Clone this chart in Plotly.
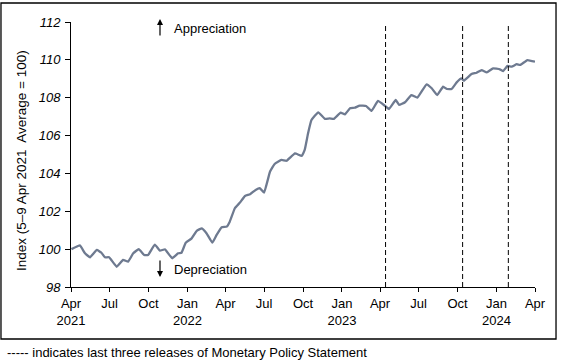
import plotly.graph_objects as go

dates = [
    "2021-04-02", "2021-04-22", "2021-05-04", "2021-05-16", "2021-06-01", "2021-06-12",
    "2021-06-20", "2021-06-30", "2021-07-18", "2021-08-02", "2021-08-14", "2021-08-26",
    "2021-09-08", "2021-09-21", "2021-09-30", "2021-10-16", "2021-10-28", "2021-11-09",
    "2021-11-26", "2021-12-10", "2021-12-18", "2021-12-28",
    "2022-01-11", "2022-01-23", "2022-02-04", "2022-02-15", "2022-03-01", "2022-03-11",
    "2022-03-23", "2022-04-04", "2022-04-11", "2022-04-23", "2022-05-05", "2022-05-17",
    "2022-05-29", "2022-06-11", "2022-06-21", "2022-07-01", "2022-07-15", "2022-07-26",
    "2022-08-11", "2022-08-23", "2022-09-12", "2022-09-28", "2022-10-05", "2022-10-13",
    "2022-10-21", "2022-11-06", "2022-11-22", "2022-12-03", "2022-12-13", "2022-12-29",
    "2023-01-08", "2023-01-20", "2023-01-31", "2023-02-12", "2023-02-27", "2023-03-12",
    "2023-03-27", "2023-04-12", "2023-04-22", "2023-05-08", "2023-05-16", "2023-05-30",
    "2023-06-14", "2023-06-28", "2023-07-20", "2023-08-01", "2023-08-14", "2023-08-28",
    "2023-09-06", "2023-09-17", "2023-09-29", "2023-10-10", "2023-10-16", "2023-11-03",
    "2023-11-15", "2023-11-27", "2023-12-09", "2023-12-24",
    "2024-01-09", "2024-01-17", "2024-01-27", "2024-02-06", "2024-02-18", "2024-02-26",
    "2024-03-14", "2024-04-01",
]
index_values = [
    100.0, 100.2, 99.78, 99.57, 99.96, 99.81,
    99.57, 99.57, 99.07, 99.43, 99.34, 99.78,
    100.0, 99.69, 99.69, 100.24, 99.92, 99.99,
    99.52, 99.78, 99.81, 100.34,
    100.57, 100.97, 101.1, 100.84, 100.34, 100.75,
    101.16, 101.19, 101.45, 102.16, 102.46, 102.81,
    102.9, 103.13, 103.22, 102.98, 104.09, 104.5,
    104.71, 104.67, 105.06, 104.92, 105.24, 106.12,
    106.82, 107.23, 106.88, 106.91, 106.88, 107.21,
    107.12, 107.44, 107.47, 107.58, 107.56, 107.3,
    107.83, 107.58, 107.4, 107.88, 107.62, 107.76,
    108.14, 108.0, 108.71, 108.5, 108.14, 108.58,
    108.46, 108.46, 108.81, 109.02, 108.9, 109.25,
    109.32, 109.46, 109.34, 109.55,
    109.5, 109.41, 109.68, 109.64, 109.77, 109.73,
    109.99, 109.9,
]

mps_releases = ["2023-04-14", "2023-10-13", "2024-01-29"]

tick_dates = [
    "2021-04-01", "2021-07-01", "2021-10-01", "2022-01-01", "2022-04-01", "2022-07-01",
    "2022-10-01", "2023-01-01", "2023-04-01", "2023-07-01", "2023-10-01", "2024-01-01",
    "2024-04-01",
]
tick_labels = [
    "Apr<br>2021", "Jul", "Oct", "Jan<br>2022", "Apr", "Jul",
    "Oct", "Jan<br>2023", "Apr", "Jul", "Oct", "Jan<br>2024",
    "Apr",
]
y_ticks = [98, 100, 102, 104, 106, 108, 110, 112]

FONT = "Liberation Sans, Arial, sans-serif"
LINE_COLOR = "#6E7A90"

fig = go.Figure()
fig.add_trace(go.Scatter(
    x=dates, y=index_values, mode="lines",
    line=dict(color=LINE_COLOR, width=2.3, shape="spline", smoothing=0.3),
    showlegend=False, hoverinfo="skip",
))

for d in mps_releases:
    fig.add_shape(type="line", xref="x", yref="y", x0=d, x1=d, y0=98, y1=111.85,
                  line=dict(color="black", width=1, dash="5px,3px"))

# outer frame
fig.add_shape(type="rect", xref="paper", yref="paper",
              x0=-0.1509, x1=1.0453, y0=-0.1962, y1=1.0717,
              line=dict(color="black", width=1.3), fillcolor="rgba(0,0,0,0)", layer="below")

fig.update_layout(
    width=561, height=363,
    margin=dict(l=71, r=26, t=22, b=76),
    paper_bgcolor="white", plot_bgcolor="white",
    font=dict(family=FONT, size=12, color="black"),
    xaxis=dict(
        range=["2021-04-01", "2024-04-01"],
        tickmode="array", tickvals=tick_dates, ticktext=tick_labels,
        showgrid=False, zeroline=False,
        showline=True, linecolor="black", linewidth=1,
        ticks="outside", ticklen=4, tickcolor="black", tickwidth=1,
        tickfont=dict(family=FONT, size=13, color="black"),
        tickangle=0,
    ),
    yaxis=dict(
        range=[98, 112], tickmode="array", tickvals=y_ticks,
        showgrid=False, zeroline=False,
        showline=True, linecolor="black", linewidth=1,
        ticks="outside", ticklen=5, tickcolor="black", tickwidth=1,
        ticklabelstandoff=2,
        tickfont=dict(family=FONT, size=13, color="black", style="italic"),
    ),
)

# y-axis title
fig.add_annotation(xref="paper", yref="paper", x=-0.1078, y=0.479, textangle=-90,
                   xanchor="center", yanchor="middle", showarrow=False,
                   text="Index (5\u20139 Apr 2021\u00a0 Average = 100)",
                   font=dict(family=FONT, size=13.5, color="black"))

# Appreciation / Depreciation annotations
fig.add_annotation(xref="paper", yref="paper", x=0.1918, y=1.011, ax=0, ay=18,
                   showarrow=True, arrowhead=2, arrowsize=1, arrowwidth=1.2,
                   arrowcolor="black", text="")
fig.add_annotation(xref="paper", yref="paper", x=0.2177, y=0.9736, xanchor="left",
                   yanchor="middle", showarrow=False, text="Appreciation",
                   font=dict(family=FONT, size=13, color="black"))
fig.add_annotation(xref="paper", yref="paper", x=0.1918, y=0.0377, ax=0, ay=-18,
                   showarrow=True, arrowhead=2, arrowsize=1, arrowwidth=1.2,
                   arrowcolor="black", text="")
fig.add_annotation(xref="paper", yref="paper", x=0.2177, y=0.0679, xanchor="left",
                   yanchor="middle", showarrow=False, text="Depreciation",
                   font=dict(family=FONT, size=13, color="black"))

# footnote
fig.add_annotation(xref="paper", yref="paper", x=-0.1422, y=-0.2453, xanchor="left",
                   yanchor="middle", showarrow=False,
                   text="----- indicates last three releases of Monetary Policy Statement",
                   font=dict(family=FONT, size=13, color="black"))

fig.write_html("out.html", config={"displayModeBar": False},
               post_script="document.body.style.margin='0';document.body.style.padding='0';")
